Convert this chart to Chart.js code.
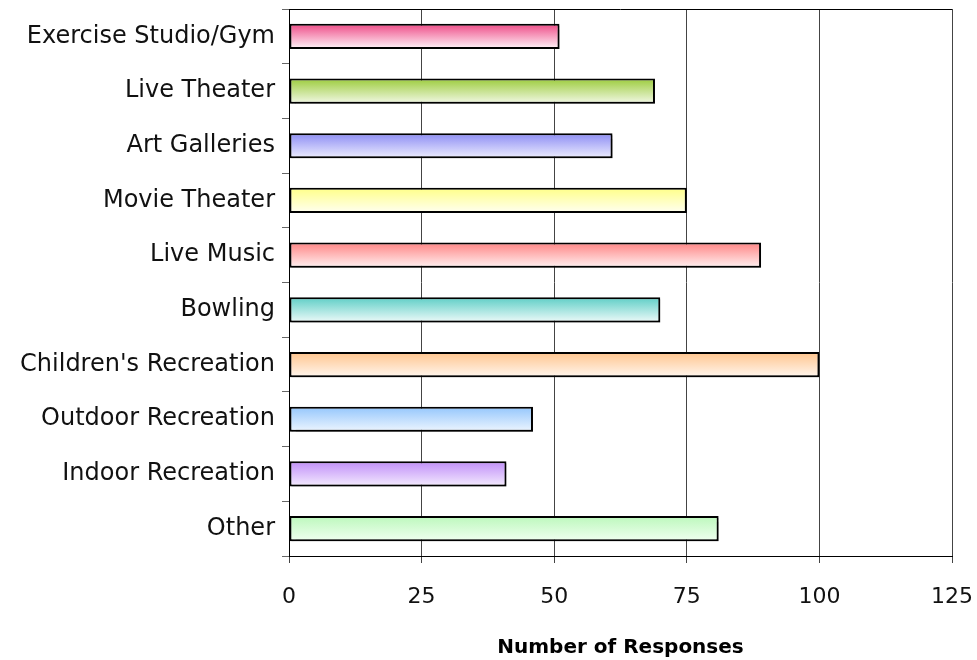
<!DOCTYPE html>
<html>
<head>
<meta charset="utf-8">
<script src="https://cdn.jsdelivr.net/npm/chart.js@4/dist/chart.umd.min.js"></script>
<style>
  html, body { margin: 0; padding: 0; background: #fff; }
  #wrap { width: 977px; height: 660px; }
</style>
</head>
<body>
<div id="wrap"><canvas id="chart-responses" width="977" height="660"></canvas></div>
<script>
const categories = [
  'Exercise Studio/Gym', 'Live Theater', 'Art Galleries', 'Movie Theater', 'Live Music',
  'Bowling', "Children's Recreation", 'Outdoor Recreation', 'Indoor Recreation', 'Other',
];
const responses = [51, 69, 61, 75, 89, 70, 100, 46, 41, 81];
const topColors = [
  '#ee4a86', '#9ccc3c', '#8c8cf4', '#ffff88', '#ff8484',
  '#5ecec6', '#ffc48c', '#94c6fc', '#c08ef8', '#bcf8bc',
];
const bottomColors = [
  '#fff6fa', '#f2f8e6', '#eeeefe', '#fffff2', '#fff2f2',
  '#eefaf9', '#fff6ee', '#eef6ff', '#f4ecfe', '#f0fff0',
];
const xTicks = [0, 25, 50, 75, 100, 125];

const FONT = "'DejaVu Sans', sans-serif";
const BAR_PCT = 0.46;

// vertical fade on each bar, from the row's pixel position
const barFill = (context) => {
  const chart = context.chart;
  const yScale = chart.scales.y;
  const i = context.dataIndex;
  if (!chart.chartArea || !yScale) return topColors[i];
  const rowH = (yScale.bottom - yScale.top) / categories.length;
  const mid = yScale.getPixelForValue(i);
  const half = rowH * BAR_PCT / 2;
  const grad = chart.ctx.createLinearGradient(0, mid - half, 0, mid + half);
  grad.addColorStop(0, topColors[i]);
  grad.addColorStop(1, bottomColors[i]);
  return grad;
};

const barShadow = {
  id: 'barShadow',
  beforeDatasetDraw(chart) {
    const ctx = chart.ctx;
    ctx.save();
    ctx.shadowColor = 'rgba(0,0,0,0.3)';
    ctx.shadowOffsetX = 2;
    ctx.shadowOffsetY = 2;
    ctx.shadowBlur = 1;
  },
  afterDatasetDraw(chart) {
    chart.ctx.restore();
  },
};

const topBorder = {
  id: 'topBorder',
  afterDraw(chart) {
    const { ctx, chartArea } = chart;
    ctx.save();
    ctx.strokeStyle = '#000';
    ctx.lineWidth = 1;
    ctx.beginPath();
    ctx.moveTo(chartArea.left, chartArea.top + 0.5);
    ctx.lineTo(chartArea.right, chartArea.top + 0.5);
    ctx.stroke();
    ctx.restore();
  },
};

const chart = new Chart(document.getElementById('chart-responses'), {
  type: 'bar',
  data: {
    labels: categories,
    datasets: [
      {
        label: 'Number of Responses',
        data: responses,
        backgroundColor: barFill,
        borderColor: '#000',
        borderWidth: 2,
        borderSkipped: false,
        barPercentage: BAR_PCT,
        categoryPercentage: 1,
      },
    ],
  },
  plugins: [barShadow, topBorder],
  options: {
    indexAxis: 'y',
    responsive: false,
    animation: false,
    layout: {
      padding: { top: 9, right: 25, bottom: 0, left: 0 },
    },
    plugins: {
      legend: { display: false },
      tooltip: { enabled: false },
    },
    scales: {
      x: {
        min: 0,
        max: 125,
        afterBuildTicks: (scale) => {
          scale.ticks = xTicks.map((v) => ({ value: v }));
        },
        afterFit: (scale) => {
          scale.height = 104;
          scale.paddingLeft = 0;
          scale.paddingRight = 0;
        },
        grid: {
          color: '#444',
          lineWidth: 1,
          tickLength: 7,
        },
        border: { display: true, color: '#000', width: 1 },
        ticks: {
          color: '#111',
          padding: 21,
          font: { family: FONT, size: 22 },
        },
        title: {
          display: true,
          text: 'Number of Responses',
          color: '#000',
          padding: { top: 0, bottom: 0 },
          font: { family: FONT, size: 20, weight: 'bold' },
        },
      },
      y: {
        afterFit: (scale) => {
          scale.width = 289;
          scale.paddingTop = 0;
          scale.paddingBottom = 0;
        },
        grid: {
          drawOnChartArea: false,
          color: '#666',
          tickLength: 7,
        },
        border: { display: true, color: '#000', width: 1 },
        ticks: {
          color: '#111',
          padding: 7,
          font: { family: FONT, size: 24 },
        },
      },
    },
  },
});
</script>
</body>
</html>
